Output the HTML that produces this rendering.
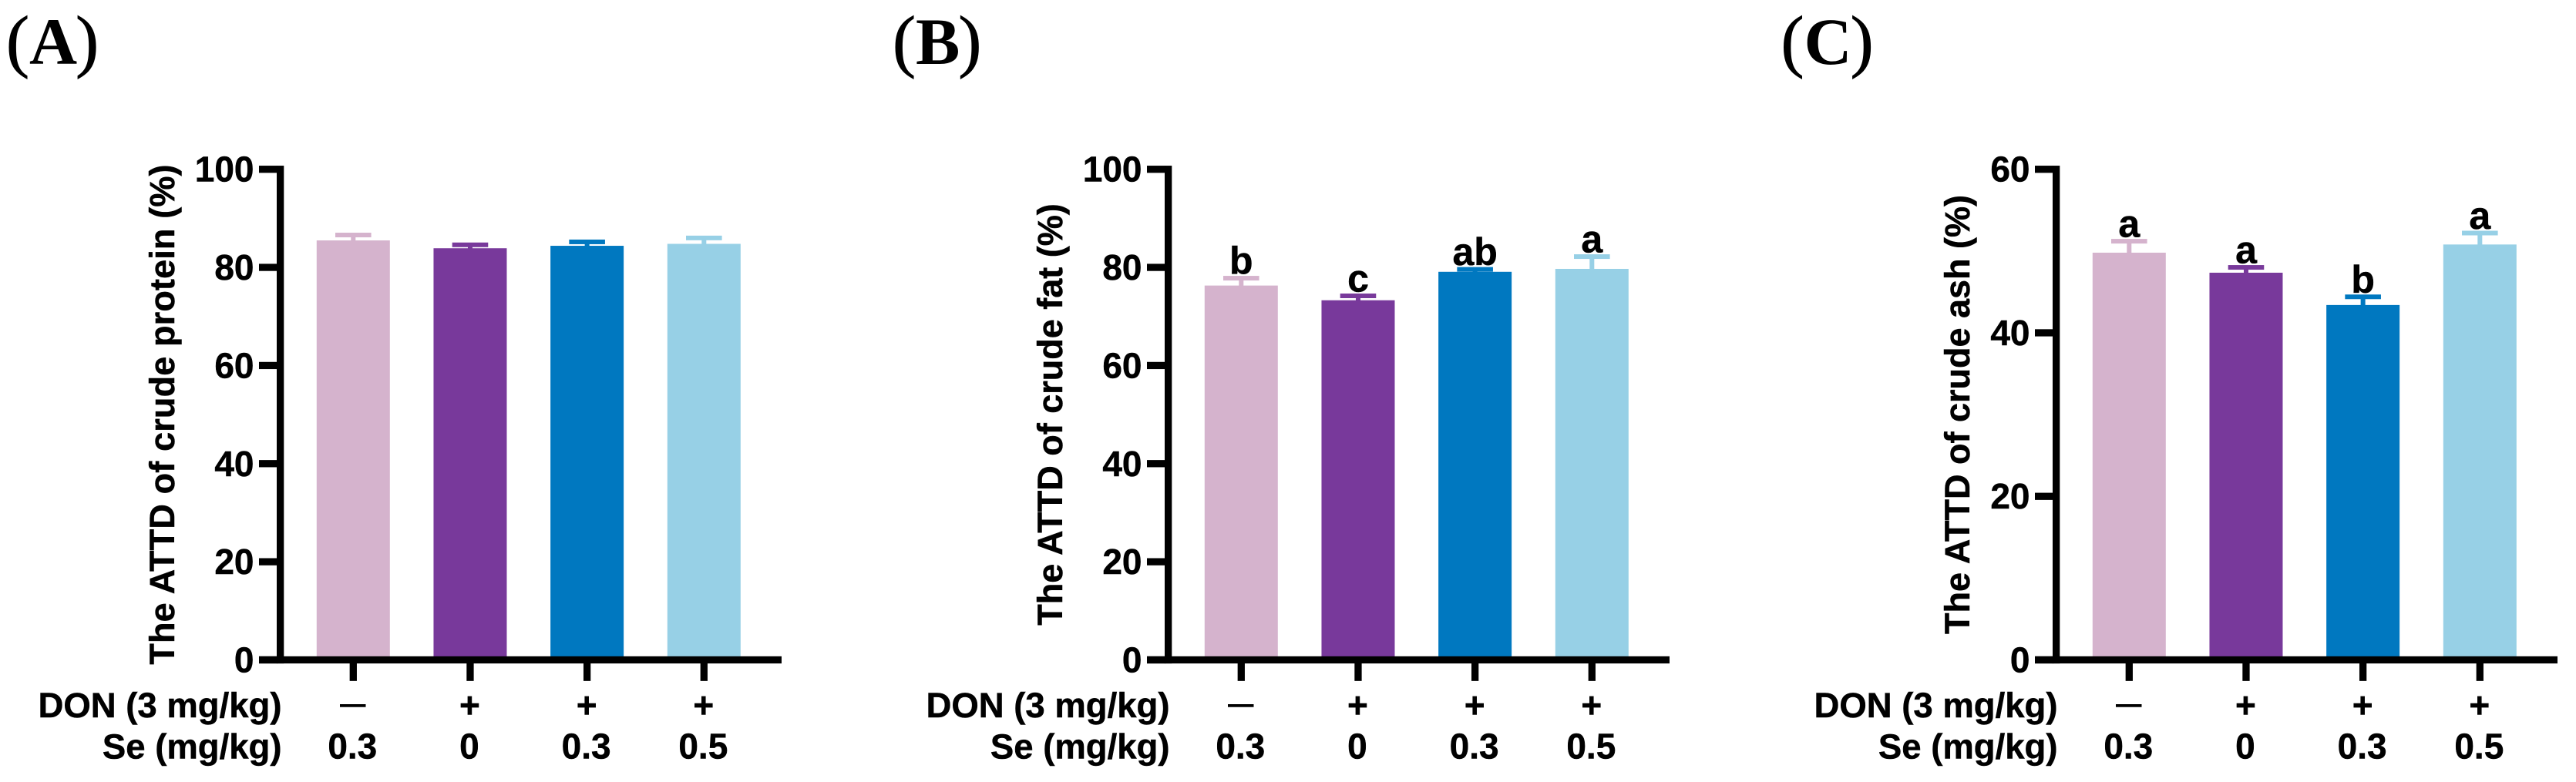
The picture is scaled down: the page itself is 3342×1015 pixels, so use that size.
<!DOCTYPE html>
<html lang="en">
<head>
<meta charset="utf-8">
<title>ATTD of crude protein, fat and ash</title>
<style>
  html, body { margin: 0; padding: 0; background: #fff; }
  svg { display: block; }
  text { font-family: "Liberation Sans", Arial, sans-serif; font-weight: 700; fill: #000; stroke: #000; stroke-width: 0.5px; }
  .panel-letter { font-family: "Liberation Serif", "Times New Roman", serif; font-size: 86px; stroke-width: 0; }
  .panel-paren { font-size: 90px; font-weight: 400; stroke: #000; stroke-width: 0.9px; }
  .tick-label { font-size: 46px; text-anchor: end; }
  .axis-title { font-size: 45px; text-anchor: middle; }
  .row-title { font-size: 45.5px; text-anchor: end; }
  .row-value { font-size: 46px; text-anchor: middle; }
  .row-dash { font-size: 33px; text-anchor: middle; }
  .sig-letter { font-size: 50px; text-anchor: middle; }
  .axis-line { fill: #000; }
  .fill-0 { fill: #d5b3cd; } .fill-1 { fill: #78399b; } .fill-2 { fill: #0078c0; } .fill-3 { fill: #97d0e6; }
</style>
</head>
<body>
<svg id="figure" xmlns="http://www.w3.org/2000/svg" width="3342" height="1015" viewBox="0 0 3342 1015"></svg>
<script>
// Chart data
const groupKeys = ['control', 'don', 'don-se-low', 'don-se-high'];
const donLabels = ['—', '+', '+', '+'];
const seLabels = ['0.3', '0', '0.3', '0.5'];

const proteinMeans = [85.5, 83.9, 84.4, 84.8];
const proteinErrors = [1.1, 0.7, 0.8, 1.2];
const proteinLetters = ['', '', '', ''];
const proteinTicks = [0, 20, 40, 60, 80, 100];

const fatMeans = [76.3, 73.3, 79.1, 79.7];
const fatErrors = [1.5, 0.9, 0.5, 2.5];
const fatLetters = ['b', 'c', 'ab', 'a'];
const fatTicks = [0, 20, 40, 60, 80, 100];

const ashMeans = [49.8, 47.35, 43.4, 50.8];
const ashErrors = [1.4, 0.65, 1.0, 1.4];
const ashLetters = ['a', 'a', 'b', 'a'];
const ashTicks = [0, 20, 40, 60];

const svg = document.getElementById('figure');
const NS = 'http://www.w3.org/2000/svg';

function make(tag, parent, props, content) {
  const el = document.createElementNS(NS, tag);
  for (const k in props) el.setAttribute(k, props[k]);
  if (content !== undefined) el.textContent = content;
  parent.appendChild(el);
  return el;
}

// Axis geometry (panel-local coordinates; panel A origin)
const Y0 = 856.5, Y_SPAN = 636.8, X0 = 458.3, X_STEP = 151.67;
const BAR_W = 95, CAP_W = 46.6, LINE_W = 6, AXIS_W = 9.3;
function xScale(i) { return X0 + X_STEP * i; }
function yScale(v, max) { return Y0 - (v / max) * Y_SPAN; }

function drawPanel(cfg) {
  const g = make('g', svg, { transform: 'translate(' + cfg.dx + ',0)' });
  
  
  const max = cfg.ticks[cfg.ticks.length - 1];

  const letter = make('text', svg, { class: 'panel-letter', x: cfg.labelX, y: 83 });
  
  
  make('tspan', letter, { class: 'panel-paren' }, '(');
  make('tspan', letter, {}, cfg.panelLabel);
  make('tspan', letter, { class: 'panel-paren', dx: -2 }, ')');

  const title = make('text', g, { class: 'axis-title', transform: 'translate(' + cfg.titleX + ',538) rotate(-90)', 'letter-spacing': cfg.titleSpacing }, cfg.title);
  
  

  cfg.means.forEach(function (v, i) {
    const cx = xScale(i);
    const top = yScale(v, max);
    const capY = yScale(v + cfg.errors[i], max);

    const stem = make('rect', g, { class: 'fill-' + i, x: cx - LINE_W / 2, y: capY, width: LINE_W, height: top - capY + 1 });
    
    

    const cap = make('rect', g, { class: 'fill-' + i, x: cx - CAP_W / 2, y: capY - LINE_W / 2, width: CAP_W, height: LINE_W });
    
    

    const bar = make('rect', g, { class: 'fill-' + i, x: cx - BAR_W / 2, y: top, width: BAR_W, height: Y0 - top });
    
    

    if (cfg.letters[i]) {
      const sig = make('text', g, { class: 'sig-letter', x: cx, y: capY - LINE_W / 2 - 2.5 }, cfg.letters[i]);
      
      
    }
  });

  const yAxis = make('rect', g, { class: 'axis-line', x: 359, y: yScale(max, max) - AXIS_W / 2, width: AXIS_W, height: Y_SPAN + AXIS_W });
  
  

  const xAxis = make('rect', g, { class: 'axis-line', x: 336, y: Y0 - AXIS_W / 2, width: 678, height: AXIS_W });
  
  

  cfg.ticks.forEach(function (t) {
    const y = yScale(t, max);
    const tick = make('rect', g, { class: 'axis-line', x: 336, y: y - AXIS_W / 2, width: 24, height: AXIS_W });
    
    
    const label = make('text', g, { class: 'tick-label', x: 329.5, y: y + 16 }, String(t));
    
    
  });

  groupKeys.forEach(function (key, i) {
    const cx = xScale(i);
    const tick = make('rect', g, { class: 'axis-line', x: cx - AXIS_W / 2, y: Y0 + AXIS_W / 2 - 0.5, width: AXIS_W, height: 23.2 });
    
    

    const isDash = donLabels[i] === '—';
    const don = make('text', g, { class: isDash ? 'row-dash' : 'row-value', x: cx - 0.5, y: isDash ? 925 : 931 }, donLabels[i]);
    
    

    const se = make('text', g, { class: 'row-value', x: cx - 1, y: 984.5 }, seLabels[i]);
    
    
  });

  const donTitle = make('text', g, { class: 'row-title', x: 365.5, y: 931 }, 'DON (3 mg/kg)');
  
  

  const seTitle = make('text', g, { class: 'row-title', x: 365.5, y: 984.5 }, 'Se (mg/kg)');
  
  
}

drawPanel({ key: 'protein', dx: 0, labelX: 8, panelLabel: 'A', title: 'The ATTD of crude protein (%)', titleX: 226, titleSpacing: 0.15,
  means: proteinMeans, errors: proteinErrors, letters: proteinLetters, ticks: proteinTicks });
drawPanel({ key: 'fat', dx: 1152, labelX: 1158, panelLabel: 'B', title: 'The ATTD of crude fat (%)', titleX: 226, titleSpacing: 0,
  means: fatMeans, errors: fatErrors, letters: fatLetters, ticks: fatTicks });
drawPanel({ key: 'ash', dx: 2304, labelX: 2310.5, panelLabel: 'C', title: 'The ATTD of crude ash (%)', titleX: 251, titleSpacing: 0,
  means: ashMeans, errors: ashErrors, letters: ashLetters, ticks: ashTicks });
</script>
</body>
</html>
